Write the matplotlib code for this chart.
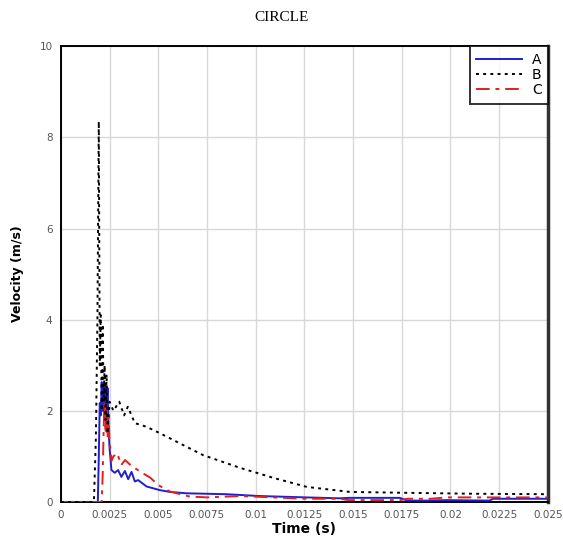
import matplotlib.pyplot as plt

# velocity traces
time_a = [0.0, 0.0019, 0.00195, 0.0020, 0.00205, 0.0021, 0.00215, 0.0022, 0.00225, 0.0023,
          0.00235, 0.0024, 0.00245, 0.0025, 0.0026, 0.00277, 0.00294, 0.00311, 0.00329,
          0.00346, 0.00363, 0.0038, 0.00397, 0.0044, 0.00508, 0.0056, 0.00645, 0.0085,
          0.0102, 0.0126, 0.0143, 0.0148, 0.0174, 0.0178, 0.0188, 0.0198, 0.022, 0.0222,
          0.025]
vel_a = [0.0, 0.0, 1.0, 2.17, 1.9, 2.63, 2.0, 2.6, 1.8, 2.55, 1.9, 2.5, 1.65, 1.2, 0.7,
         0.64, 0.7, 0.55, 0.68, 0.5, 0.66, 0.45, 0.48, 0.34, 0.26, 0.22, 0.19, 0.17, 0.13,
         0.1, 0.08, 0.09, 0.09, 0.03, 0.03, 0.04, 0.03, 0.07, 0.07]

time_b = [0.0, 0.0017, 0.0018, 0.00188, 0.00195, 0.0020, 0.00205, 0.0021, 0.00215,
          0.0022, 0.00225, 0.0023, 0.00235, 0.0024, 0.0025, 0.0027, 0.003, 0.00325,
          0.00344, 0.0038, 0.0044, 0.00508, 0.00729, 0.00919, 0.01005, 0.0109, 0.01263,
          0.01484, 0.0178, 0.0212, 0.025]
vel_b = [0.0, 0.0, 1.4, 4.0, 8.35, 3.0, 4.1, 2.0, 3.9, 2.2, 3.0, 1.8, 2.8, 1.5, 2.2,
         2.0, 2.2, 1.9, 2.09, 1.73, 1.65, 1.51, 1.03, 0.75, 0.64, 0.53, 0.33, 0.22, 0.2,
         0.18, 0.17]

time_c = [0.0, 0.0021, 0.00215, 0.0022, 0.00225, 0.0023, 0.00235, 0.0024, 0.00245,
          0.0025, 0.0026, 0.0027, 0.0029, 0.0031, 0.0033, 0.0036, 0.0041, 0.0046, 0.005,
          0.0056, 0.0066, 0.0075, 0.0092, 0.0126, 0.0143, 0.0148, 0.0174, 0.0178, 0.019,
          0.0198, 0.025]
vel_c = [0.0, 0.0, 0.6, 1.6, 2.2, 1.5, 2.1, 1.4, 1.87, 1.35, 0.9, 1.0, 1.07, 0.81, 0.92,
         0.8, 0.66, 0.53, 0.37, 0.23, 0.12, 0.1, 0.13, 0.07, 0.07, 0.04, 0.04, 0.07, 0.07,
         0.1, 0.1]

x_ticks = [0, 0.0025, 0.005, 0.0075, 0.01, 0.0125, 0.015, 0.0175, 0.02, 0.0225, 0.025]
x_labels = ['0', '0.0025', '0.005', '0.0075', '0.01', '0.0125', '0.015', '0.0175',
            '0.02', '0.0225', '0.025']
y_ticks = [0, 2, 4, 6, 8, 10]

fig = plt.figure(figsize=(5.63, 5.38), dpi=100)
ax = fig.add_axes([0.108, 0.067, 0.865, 0.847])

ax.plot(time_a, vel_a, color='#1f1fd0', lw=1.4, label='A', zorder=3)
ax.plot(time_b, vel_b, color='black', lw=1.4, ls=(0, (1.5, 2.2)), label='B', zorder=4)
ax.plot(time_c, vel_c, color='#e01f1f', lw=1.4, ls=(0, (7, 3, 2, 3)), label='C', zorder=3)

ax.set_xlim(0, 0.025)
ax.set_ylim(0, 10)
ax.set_xticks(x_ticks)
ax.set_xticklabels(x_labels)
ax.set_yticks(y_ticks)
ax.tick_params(length=0, labelsize=7.5, colors='#555555', pad=6)
ax.grid(True, color='#d8d8d8', lw=1.0)
ax.set_axisbelow(True)

for side in ['left', 'top', 'bottom']:
    ax.spines[side].set_linewidth(1.4)
    ax.spines[side].set_color('black')
ax.spines['right'].set_linewidth(2.5)
ax.spines['right'].set_color('#333333')

ax.set_xlabel('Time (s)', fontsize=10, fontweight='bold', labelpad=1)
ax.set_ylabel('Velocity (m/s)', fontsize=9, fontweight='bold', labelpad=11)
fig.text(0.5, 0.968, 'CIRCLE', ha='center', va='center', fontsize=11,
         family='Liberation Serif')

leg = ax.legend(loc='upper right', fontsize=10, frameon=True, fancybox=False,
                edgecolor='black', borderaxespad=0, handlelength=3.3,
                handletextpad=0.7, labelspacing=0.1, borderpad=0.45)
leg.get_frame().set_linewidth(1.4)

fig.savefig('out.png', dpi=100)
